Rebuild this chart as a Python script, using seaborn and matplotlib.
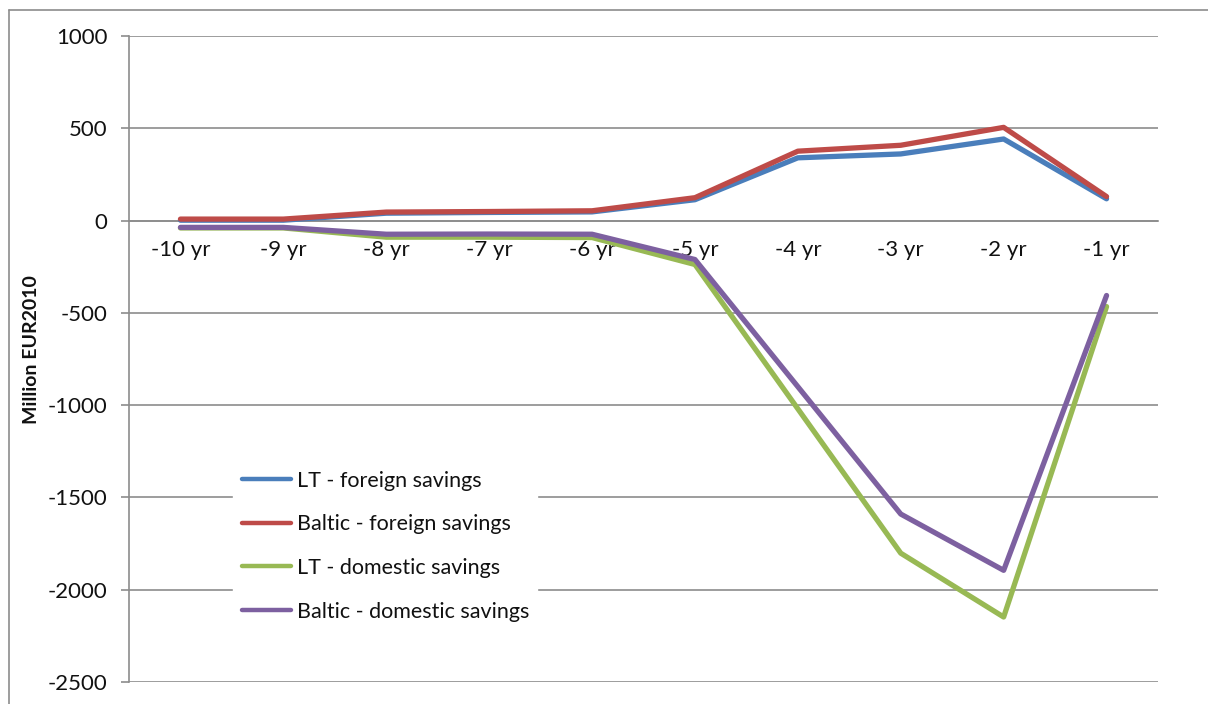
import matplotlib
matplotlib.use("Agg")
import matplotlib.pyplot as plt
from matplotlib.lines import Line2D
from matplotlib.ticker import FixedLocator
import seaborn as sns
import pandas as pd
import numpy as np

# Categories: years before the event
years = ["-10 yr", "-9 yr", "-8 yr", "-7 yr", "-6 yr", "-5 yr", "-4 yr", "-3 yr", "-2 yr", "-1 yr"]

# Series values, million EUR2010
lt_foreign = [2, 2, 40, 44, 47, 113, 340, 361, 442, 118]
baltic_foreign = [8, 8, 46, 49, 53, 124, 376, 408, 505, 130]
lt_domestic = [-40, -40, -90, -90, -92, -238, -1020, -1802, -2148, -466]
baltic_domestic = [-37, -37, -74, -73, -74, -211, -900, -1590, -1895, -406]

series_names = ["LT - foreign savings", "Baltic - foreign savings",
                "LT - domestic savings", "Baltic - domestic savings"]
series_values = [lt_foreign, baltic_foreign, lt_domestic, baltic_domestic]
series_colors = ["#4A7EBB", "#BE4B48", "#98B954", "#7D60A0"]

y_ticks = [1000, 500, 0, -500, -1000, -1500, -2000, -2500]

df = pd.DataFrame({
    "pos": np.tile(np.arange(len(years)), len(series_names)),
    "value": np.concatenate(series_values),
    "series": np.repeat(series_names, len(years)),
})

sns.set_theme(style="white")
plt.rcParams["font.family"] = ["Lato", "DejaVu Sans"]

W, H = 1208, 704
fig = plt.figure(figsize=(W / 100, H / 100), dpi=100)
ax = fig.add_axes([129 / W, 1 - 682 / H, (1158 - 129) / W, (682 - 36) / H])

grid_col = "#8C8C8C"
text_col = "#111111"

sns.lineplot(data=df, x="pos", y="value", hue="series", hue_order=series_names,
             palette=series_colors, linewidth=3.8, ax=ax, legend=True,
             solid_capstyle="round", solid_joinstyle="round", zorder=3)

ax.set_xlim(-0.5, len(years) - 0.5)
ax.set_ylim(min(y_ticks), max(y_ticks))
ax.yaxis.set_major_locator(FixedLocator(y_ticks))
ax.set_yticklabels([str(v) for v in y_ticks])
ax.grid(axis="y", color=grid_col, linewidth=1.2)
ax.grid(axis="x", visible=False)

# category axis sits on the zero line, tick marks between categories
ax.spines["bottom"].set_position(("data", 0))
ax.set_xticks(range(len(years)))
ax.set_xticklabels(years)
ax.xaxis.set_minor_locator(FixedLocator(np.arange(-0.5, len(years), 1.0)))
ax.tick_params(axis="x", which="major", length=0, pad=14, labelsize=16, labelcolor=text_col)
ax.tick_params(axis="x", which="minor", length=5.5, width=1.2, color=grid_col, direction="out")
ax.tick_params(axis="y", which="major", length=5.5, width=1.2, color=grid_col,
               direction="out", left=True, pad=10, labelsize=16, labelcolor=text_col)

for side in ["top", "right"]:
    ax.spines[side].set_visible(False)
for side in ["left", "bottom"]:
    ax.spines[side].set_color(grid_col)
    ax.spines[side].set_linewidth(1.2)

ax.set_xlabel("")
ax.set_ylabel("")
fig.text(32 / W, 1 - 350 / H, "Million EUR2010", rotation=90, ha="center", va="center",
         fontsize=14, fontweight="bold", color=text_col)

handles, labels = ax.get_legend_handles_labels()
for h in handles:
    h.set_linewidth(3.2)
leg = ax.legend(handles, labels, loc="upper left",
                bbox_to_anchor=(233 / W, 1 - 462 / H), bbox_transform=fig.transFigure,
                frameon=True, fancybox=False, framealpha=1, edgecolor="white",
                facecolor="white", fontsize=15.5, labelspacing=1.1,
                handlelength=2.3, handletextpad=0.25, borderpad=0.4, borderaxespad=0)
for t in leg.get_texts():
    t.set_color(text_col)
leg.set_zorder(5)

# chart border
fig.add_artist(Line2D([9 / W, 9 / W], [0, 1 - 10 / H], transform=fig.transFigure,
                      color=grid_col, linewidth=1.2))
fig.add_artist(Line2D([9 / W, 1], [1 - 10 / H, 1 - 10 / H], transform=fig.transFigure,
                      color=grid_col, linewidth=1.2))

fig.savefig("out.png", dpi=100, facecolor="white")
